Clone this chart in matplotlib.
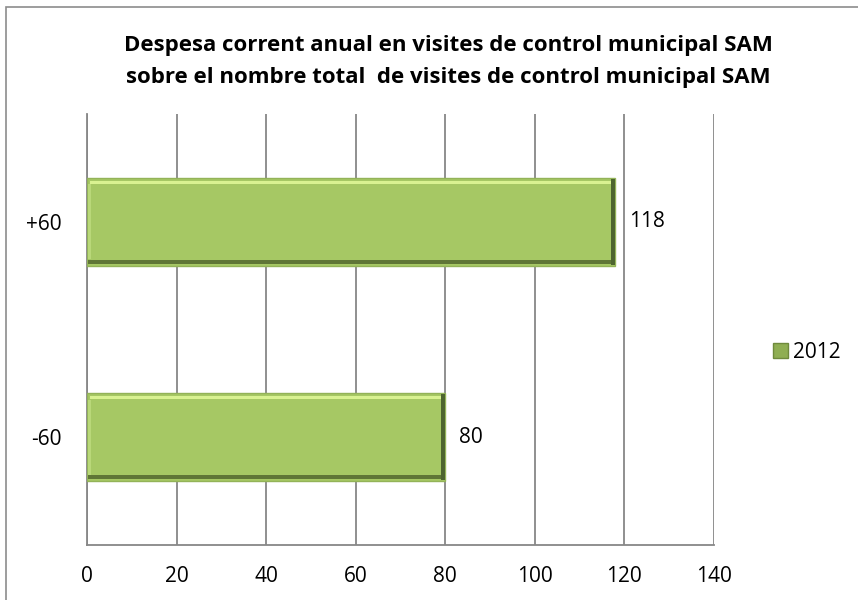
import matplotlib
matplotlib.use('Agg')
import matplotlib.pyplot as plt
import matplotlib.patches as mpatches
import numpy as np

# Data
categories = ['-60', '+60']
values_2012 = [80, 118]
series_name = '2012'
x_ticks = [0, 20, 40, 60, 80, 100, 120, 140]
title_lines = ['Despesa corrent anual en visites de control municipal SAM',
               'sobre el nombre total  de visites de control municipal SAM']

plt.rcParams['font.family'] = ['Open Sans', 'DejaVu Sans']

GREEN = '#A6C864'
GRID = '#878787'

fig = plt.figure(figsize=(8.58, 6.0), dpi=100)
fig.patch.set_facecolor('white')

# outer chart border (only top and left visible in the crop)
border = mpatches.Rectangle((6 / 858, -0.5), 2.0, 0.5 + (600 - 7) / 600,
                            transform=fig.transFigure, fill=False,
                            edgecolor='#8c8c8c', linewidth=1.2)
fig.patches.append(border)

ax = fig.add_axes([87 / 858, 55 / 600, 627 / 858, 431 / 600])

y = np.arange(len(categories))
h = 0.41
vals = np.array(values_2012)

# main bar body
ax.barh(y, vals, height=h, color=GREEN, edgecolor='#93B358',
        linewidth=1.0, zorder=3, label=series_name)
# bevel effect: light top edge, dark bottom and right edge
ax.barh(y + h / 2 - 0.022, vals - 1.0, left=0.6, height=0.014,
        color='#D9F291', linewidth=0, zorder=4)
ax.barh(y - h / 2 + 0.02, vals - 0.4, left=0.2, height=0.018,
        color='#5F7636', linewidth=0, zorder=4)
ax.barh(y, np.full(len(vals), 0.9), left=vals - 0.9, height=h - 0.01,
        color='#4E6530', linewidth=0, zorder=4)
ax.barh(y, np.full(len(vals), 0.6), left=0.2, height=h - 0.06,
        color='#B9D879', linewidth=0, zorder=4)

for yi, v in zip(y, vals):
    ax.text(v + 3.0, yi, f'{v}', va='center', ha='left', fontsize=15,
            color='black')

ax.set_xlim(0, 140)
ax.set_ylim(-0.5, len(categories) - 0.5)
ax.set_xticks(x_ticks)
ax.set_xticklabels([str(t) for t in x_ticks], fontsize=15)
ax.set_yticks(y)
ax.set_yticklabels(categories, fontsize=15)
ax.tick_params(axis='x', length=0, pad=15)
ax.tick_params(axis='y', length=0, pad=18)

ax.xaxis.grid(True, color=GRID, linewidth=1.3, zorder=0)
ax.set_axisbelow(True)
for side in ['top', 'right']:
    ax.spines[side].set_visible(False)
for side in ['left', 'bottom']:
    ax.spines[side].set_color(GRID)
    ax.spines[side].set_linewidth(1.3)

for i, line in enumerate(title_lines):
    fig.text(448 / 858, 1 - (45 + 33 * i) / 600, line, ha='center',
             va='center', fontsize=16, fontweight='bold', color='black')

leg_handle = mpatches.Patch(facecolor='#8FAE52', edgecolor='#6F8A3C',
                            label=series_name)
fig.legend(handles=[leg_handle], loc='center left',
           bbox_to_anchor=(765 / 858, 1 - 352 / 600), frameon=False,
           fontsize=15, handlelength=0.7, handleheight=0.7,
           handletextpad=0.25, borderaxespad=0)

plt.savefig('out.png', dpi=100, facecolor='white')
plt.close()
